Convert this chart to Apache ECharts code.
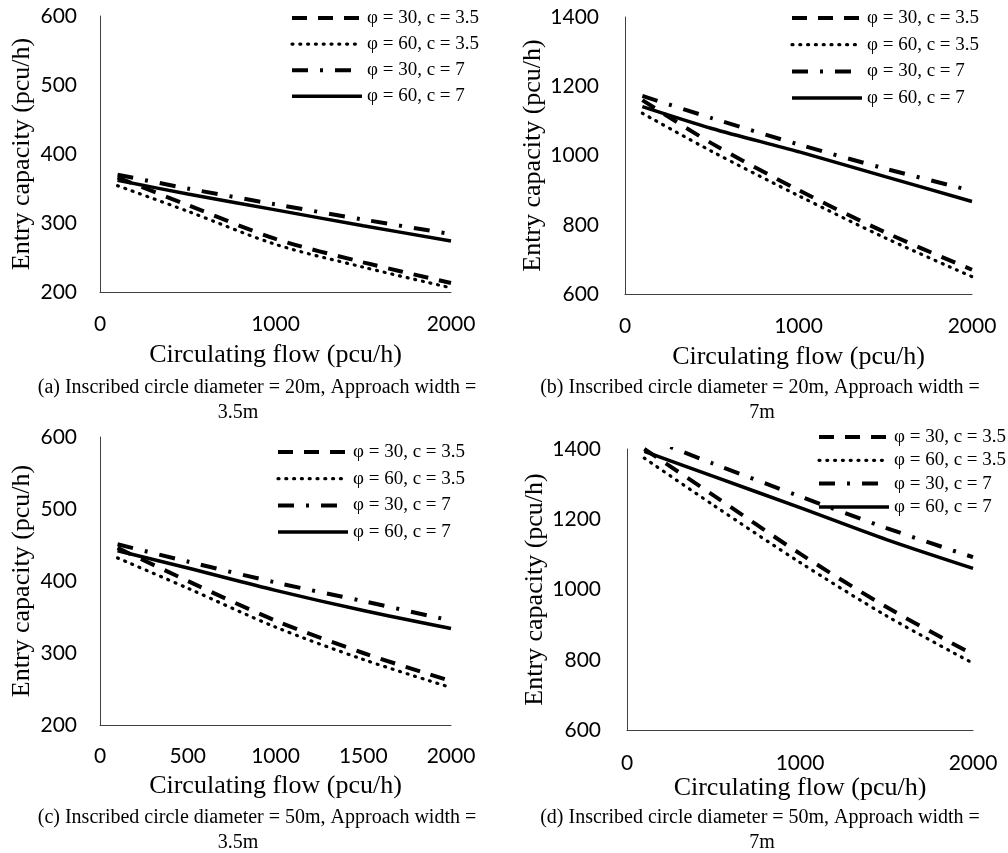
<!DOCTYPE html>
<html>
<head>
<meta charset="utf-8">
<script src="https://cdn.jsdelivr.net/npm/echarts@6/dist/echarts.min.js"></script>
<style>
html,body{margin:0;padding:0;background:#fff;}
#chart{width:1008px;height:853px;}
</style>
</head>
<body>
<div id="chart"></div>
<script>
// ---- data ----
const xFlow = [100, 500, 1000, 1500, 2000];
const seriesNames = ['φ = 30, c = 3.5', 'φ = 60, c = 3.5', 'φ = 30, c = 7', 'φ = 60, c = 7'];

const a_phi30_c35 = [366, 326, 277, 243, 213];
const a_phi60_c35 = [354, 317, 269, 236, 206];
const a_phi30_c7  = [370, 350, 327, 305, 284];
const a_phi60_c7  = [362, 342, 319, 296, 274];

const b_phi30_c35 = [1160, 1035, 900, 778, 670];
const b_phi60_c35 = [1122, 1012, 884, 762, 650];
const b_phi30_c7  = [1172, 1108, 1032, 962, 898];
const b_phi60_c7  = [1141, 1078, 1011, 939, 867];

const c_phi30_c35 = [446, 400, 345, 300, 261];
const c_phi60_c35 = [432, 390, 336, 291, 252];
const c_phi30_c7  = [451, 427, 398, 372, 345];
const c_phi60_c7  = [442, 418, 387, 359, 334];

const d_phi30_c35 = [1400, 1268, 1102, 950, 815];
const d_phi60_c35 = [1374, 1240, 1077, 925, 790];
const d_phi30_c7  = [1435, 1358, 1265, 1175, 1092];
const d_phi60_c7  = [1393, 1322, 1233, 1142, 1060];

const yTicksSmall = {min: 200, max: 600, interval: 100};
const yTicksLarge = {min: 600, max: 1400, interval: 200};

const captions = [
  ['(a) Inscribed circle diameter = 20m, Approach width =', '3.5m'],
  ['(b) Inscribed circle diameter = 20m, Approach width =', '7m'],
  ['(c) Inscribed circle diameter = 50m, Approach width =', '3.5m'],
  ['(d) Inscribed circle diameter = 50m, Approach width =', '7m']
];
const xTitle = 'Circulating flow (pcu/h)';
const yTitle = 'Entry capacity (pcu/h)';

// ---- layout ----
const panels = [
  {grid:{left:100, top:16, width:351, height:276}, y:yTicksSmall, xInt:1000, ygap:65, xgap:50, ylm:23, xlm:22,
   data:[a_phi30_c35, a_phi60_c35, a_phi30_c7, a_phi60_c7], legend:{left:290, top:8, gap:6.1},
   cap:[{x:257, y:388}, {x:238, y:413}]},
  {grid:{left:625, top:17, width:347, height:277}, y:yTicksLarge, xInt:1000, ygap:77, xgap:50, ylm:26, xlm:22,
   data:[b_phi30_c35, b_phi60_c35, b_phi30_c7, b_phi60_c7], legend:{left:790, top:8, gap:6.7},
   cap:[{x:760, y:388}, {x:762, y:413}]},
  {grid:{left:100, top:437, width:351, height:288}, y:yTicksSmall, xInt:500, ygap:65, xgap:48, ylm:23, xlm:21,
   data:[c_phi30_c35, c_phi60_c35, c_phi30_c7, c_phi60_c7], legend:{left:276, top:442, gap:6.7},
   cap:[{x:257, y:818}, {x:238, y:843}]},
  {grid:{left:627, top:449, width:346, height:281}, y:yTicksLarge, xInt:1000, ygap:77, xgap:44, ylm:26, xlm:23,
   data:[d_phi30_c35, d_phi60_c35, d_phi30_c7, d_phi60_c7], legend:{left:817, top:427, gap:3.3},
   cap:[{x:760, y:818}, {x:762, y:843}]}
];

const lineStyles = [
  {width:4, type:[15, 11], cap:'butt'},
  {width:3.2, type:[1, 6.8], cap:'round'},
  {width:4, type:[16, 12, 3, 12], cap:'butt'},
  {width:3.5, type:'solid', cap:'butt'}
];

const serif = 'Liberation Serif, Times New Roman, serif';
const sans = 'Lato, Noto Sans, sans-serif';

const grids = [], xAxes = [], yAxes = [], series = [], legends = [], graphics = [];
panels.forEach((p, i) => {
  grids.push(Object.assign({containLabel:false}, p.grid));
  xAxes.push({
    type:'value', gridIndex:i, min:0, max:2000, interval:p.xInt,
    axisLine:{show:true, lineStyle:{color:'#404040', width:1}},
    axisTick:{show:false}, splitLine:{show:false},
    axisLabel:{fontFamily:sans, fontSize:21, color:'#000', margin:p.xlm, formatter:v => String(v)},
    name:xTitle, nameLocation:'middle', nameGap:p.xgap,
    nameTextStyle:{fontFamily:serif, fontSize:26, color:'#000'}
  });
  yAxes.push({
    type:'value', gridIndex:i, min:p.y.min, max:p.y.max, interval:p.y.interval,
    axisLine:{show:true, lineStyle:{color:'#404040', width:1}},
    axisTick:{show:false}, splitLine:{show:false},
    axisLabel:{fontFamily:sans, fontSize:21, color:'#000', margin:p.ylm, formatter:v => String(v)},
    name:yTitle, nameLocation:'middle', nameGap:p.ygap,
    nameTextStyle:{fontFamily:serif, fontSize:26, color:'#000'}
  });
  p.data.forEach((arr, k) => {
    series.push({
      type:'line', name:seriesNames[k], xAxisIndex:i, yAxisIndex:i,
      data:xFlow.map((x, j) => [x, arr[j]]),
      symbol:'none', smooth:0.3, animation:false,
      lineStyle:Object.assign({color:'#000'}, lineStyles[k]),
      itemStyle:{color:'#000'}
    });
  });
  legends.push({
    data:seriesNames, orient:'vertical', left:p.legend.left, top:p.legend.top,
    itemWidth:70, itemHeight:12, itemGap:p.legend.gap, padding:0,
    selectedMode:false,
    itemStyle:{opacity:0},
    lineStyle:{width:'inherit', type:'inherit', cap:'inherit'},
    textStyle:{fontFamily:serif, fontSize:19, color:'#000', lineHeight:20}
  });
  p.cap.forEach((c, j) => {
    graphics.push({
      type:'text', x:c.x, y:c.y,
      style:{text:captions[i][j], font:'20px ' + serif, fill:'#000', textAlign:'center', textVerticalAlign:'middle'}
    });
  });
});

const chart = echarts.init(document.getElementById('chart'), null, {renderer:'canvas'});
chart.setOption({
  backgroundColor:'#fff',
  animation:false,
  grid:grids, xAxis:xAxes, yAxis:yAxes, series:series, legend:legends, graphic:graphics
});
</script>
</body>
</html>
